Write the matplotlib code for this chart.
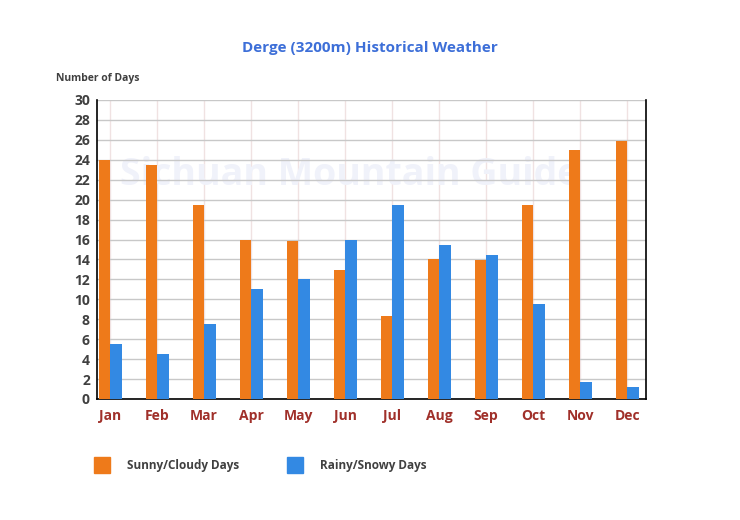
import numpy as np
import matplotlib
matplotlib.use('Agg')
from matplotlib import pyplot as plt
from matplotlib.patches import Rectangle

months = ['Jan', 'Feb', 'Mar', 'Apr', 'May', 'Jun', 'Jul', 'Aug', 'Sep', 'Oct', 'Nov', 'Dec']
sunny = [24.0, 23.5, 19.5, 16.0, 15.9, 12.9, 8.3, 14.0, 13.9, 19.5, 25.0, 25.9]
rainy = [5.5, 4.5, 7.5, 11.0, 12.0, 16.0, 19.5, 15.5, 14.4, 9.5, 1.7, 1.2]
yticks = np.arange(0, 31, 2)

orange = '#ee7a1a'
blue = '#3389e3'

plt.rcParams['font.family'] = ['Open Sans', 'DejaVu Sans']

fig = plt.figure(figsize=(7.4, 5.2), dpi=100)
ax = fig.add_axes([0.131, 0.2327, 0.742, 0.575])

x = np.arange(len(months))
w = 0.245
ax.bar(x - w / 2, sunny, w, color=orange, zorder=3)
ax.bar(x + w / 2, rainy, w, color=blue, zorder=3)

ax.set_xlim(-0.28, 11.4)
ax.set_ylim(0, 30)
ax.set_yticks(yticks)
ax.set_yticklabels([str(v) for v in yticks], fontsize=10, fontweight='bold', color='#404040')
ax.set_xticks(x)
ax.set_xticklabels(months, fontsize=10, fontweight='bold', color='#a0302a')
ax.tick_params(axis='both', length=0)
ax.tick_params(axis='x', pad=7)
ax.tick_params(axis='y', pad=5)

ax.grid(axis='y', color='#c8c8c8', linewidth=1, zorder=0)
for xi in x:
    ax.axvline(xi, color='#f0e2e2', linewidth=1, zorder=0)

ax.spines['top'].set_visible(False)
for s in ['left', 'right', 'bottom']:
    ax.spines[s].set_color('black')
    ax.spines[s].set_linewidth(1.2)

ax.text(0.46, 0.75, 'Sichuan Mountain Guide', transform=ax.transAxes, ha='center', va='center',
        fontsize=27, fontweight='bold', color='#f0f2fa', zorder=1)

fig.text(0.5, 0.908, 'Derge (3200m) Historical Weather', ha='center', va='center',
         fontsize=11, fontweight='bold', color='#3d6fd8')
fig.text(0.076, 0.849, 'Number of Days', ha='left', va='center',
         fontsize=7.5, fontweight='bold', color='#404040')

# legend
fig.patches.append(Rectangle((94 / 740, 1 - 473 / 520), 16 / 740, 16 / 520,
                             transform=fig.transFigure, color=orange))
fig.text(127 / 740, 1 - 466 / 520, 'Sunny/Cloudy Days', ha='left', va='center',
         fontsize=8.5, fontweight='bold', color='#404040')
fig.patches.append(Rectangle((287 / 740, 1 - 473 / 520), 16 / 740, 16 / 520,
                             transform=fig.transFigure, color=blue))
fig.text(320 / 740, 1 - 466 / 520, 'Rainy/Snowy Days', ha='left', va='center',
         fontsize=8.5, fontweight='bold', color='#404040')

plt.savefig('out.png', dpi=100)
